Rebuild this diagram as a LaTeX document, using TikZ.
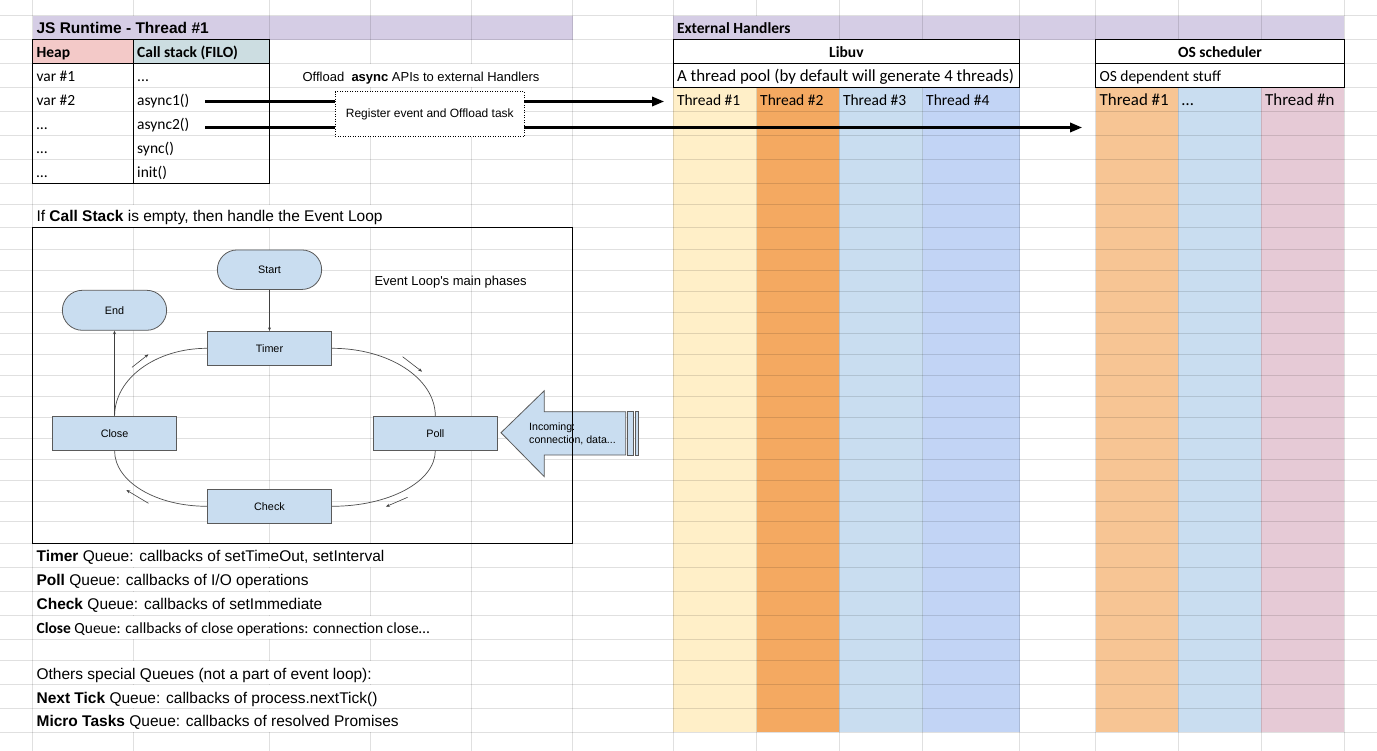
\documentclass[tikz,border=0pt]{standalone}
\usepackage{fontspec}
\setmainfont{Liberation Sans}
\newfontfamily\calfont{Carlito}
\newfontfamily\arifont{Liberation Sans}
\usetikzlibrary{arrows.meta}

\definecolor{hdrpurple}{HTML}{D5CDE5}
\definecolor{heapred}{HTML}{F3C9C8}
\definecolor{callcyan}{HTML}{CCDDE1}
\definecolor{tyellow}{HTML}{FFEFC8}
\definecolor{torange}{HTML}{F4A961}
\definecolor{tblue}{HTML}{C9DDF0}
\definecolor{tcorn}{HTML}{C2D4F5}
\definecolor{tlorange}{HTML}{F7C594}
\definecolor{tpink}{HTML}{E6CAD6}
\definecolor{shapefill}{HTML}{C9DDF0}
\definecolor{shapeline}{HTML}{5A5A5A}

\newcommand\gmask[4]{\fill[#4] (#1-1.6,#2+0.7) rectangle (#1+1.6,#3-0.7);}

\begin{document}
\begin{tikzpicture}[x=1pt,y=-1pt,
  cell/.style={font=\calfont\fontsize{15.5}{18}\selectfont, inner sep=0pt, anchor=base west},
  cellbig/.style={font=\calfont\fontsize{16.9}{20}\selectfont, inner sep=0pt, anchor=base west},
  acell/.style={font=\arifont\fontsize{15.5}{18}\selectfont, inner sep=0pt, anchor=base west},
  gridln/.style={draw=black, opacity=0.12, line width=1pt},
  border/.style={draw=black, line width=1pt},
  phase/.style={draw=shapeline, fill=shapefill, line width=0.8pt, inner sep=0pt,
     minimum width=124.3pt, minimum height=34pt, font=\arifont\fontsize{10.8}{13}\selectfont},
  term/.style={phase, minimum width=104.3pt, minimum height=39.5pt, rounded corners=19.7pt},
  loopline/.style={draw=black!70, line width=0.7pt},
  conn/.style={draw=black!75, line width=0.7pt, -{Stealth[length=3.5pt,width=3pt]}},
  dirarrow/.style={draw=black!75, line width=0.6pt, -{Stealth[length=4pt,width=3pt]}},
  offarrow/.style={draw=black, line width=2.1pt, -{Triangle[length=12pt,width=9.5pt]}},
  bigshape/.style={draw=shapeline, fill=shapefill, line width=0.8pt}
]
\fill[white] (0,0) rectangle (1377,751);
\useasboundingbox (0,0) rectangle (1377,751);

% fills
\fill[hdrpurple] (32.7,15.7) rectangle (572.6,39.6);
\fill[hdrpurple] (673.3,15.7) rectangle (1344.3,39.6);
\fill[heapred] (32.7,39.6) rectangle (133.5,63.5);
\fill[callcyan] (133.5,39.6) rectangle (269.8,63.5);
\fill[tyellow] (673.3,87.5) rectangle (756.6,732.3);
\fill[torange] (756.6,87.5) rectangle (839.3,732.3);
\fill[tblue] (839.3,87.5) rectangle (922.6,732.3);
\fill[tcorn] (922.6,87.5) rectangle (1019.5,732.3);
\fill[tlorange] (1095.6,87.5) rectangle (1178.3,732.3);
\fill[tblue] (1178.3,87.5) rectangle (1261.4,732.3);
\fill[tpink] (1261.4,87.5) rectangle (1344.3,732.3);

% grid
\foreach \x in {32.7,133.5,269.8,370.5,471.5,572.6,673.3,756.6,839.3,922.6,1019.5,1095.6,1178.3,1261.4,1344.3}
  \draw[gridln] (\x,0) -- (\x,751);
\foreach \y in {15.7,39.6,63.5,87.5,111.5,135.5,159.5,183.4,204.3,227.8,249.3,270.7,291.7,312.7,333.5,354.7,375.7,396.7,417.7,438.7,459.5,480.5,501.5,521.8,543.3,567.3,591.5,615.3,639.3,660.7,684.7,708.7,732.3}
  \draw[gridln] (0,\y) -- (1377,\y);

% gridlines hidden by overflowing text
\gmask{133.5}{15.7}{39.6}{hdrpurple}
\gmask{756.6}{15.7}{39.6}{hdrpurple}
\gmask{370.5}{63.5}{87.5}{white}
\gmask{471.5}{63.5}{87.5}{white}
\foreach \ya/\yb in {204.3/227.8,543.3/567.3,615.3/639.3,660.7/684.7,684.7/708.7,708.7/732.3}{
  \gmask{133.5}{\ya}{\yb}{white}
  \gmask{269.8}{\ya}{\yb}{white}
  \gmask{370.5}{\ya}{\yb}{white}
}
\foreach \ya/\yb in {567.3/591.5,591.5/615.3}{
  \gmask{133.5}{\ya}{\yb}{white}
  \gmask{269.8}{\ya}{\yb}{white}
}

% merged boxes
\fill[white] (673.3,39.6) rectangle (1019.5,87.5);
\fill[white] (1095.6,39.6) rectangle (1344.3,87.5);
\draw[border] (673.3,39.6) rectangle (1019.5,87.5);
\draw[border] (673.3,63.5) -- (1019.5,63.5);
\draw[border] (1095.6,39.6) rectangle (1344.3,87.5);
\draw[border] (1095.6,63.5) -- (1344.3,63.5);

% JS table borders
\draw[border] (32.7,39.6) rectangle (269.8,183.4);
\draw[border] (133.5,39.6) -- (133.5,183.4);
\draw[border] (32.7,63.5) -- (269.8,63.5);

% texts
\node[acell, font=\arifont\bfseries\fontsize{15.5}{18}\selectfont] (jsrt) at (36.3,34) {JS Runtime - Thread \#1};
\node[cell, font=\calfont\bfseries\fontsize{15.5}{18}\selectfont] (exth) at (676.8,34) {External Handlers};
\node[cell, font=\calfont\bfseries\fontsize{15.5}{18}\selectfont] (heap) at (36.4,58) {Heap};
\node[cell, font=\calfont\bfseries\fontsize{15.5}{18}\selectfont] (cstack) at (137,58) {Call stack (FILO)};
\node[cell] (h1) at (36.4,82) {var \#1};
\node[cell] (h2) at (36.4,106) {var \#2};
\node[cell] (h3) at (36.4,130) {…};
\node[cell] (h4) at (36.4,154) {…};
\node[cell] (h5) at (36.4,178) {…};
\node[cell] (c1) at (137,82) {...};
\node[cell] (c2) at (137,106) {async1()};
\node[cell] (c3) at (137,130) {async2()};
\node[cell] (c4) at (137,154) {sync()};
\node[cell] (c5) at (137,178) {init()};

\node[cell, anchor=base, font=\calfont\bfseries\fontsize{15.5}{18}\selectfont] (libuv) at (846.4,58) {Libuv};
\node[cellbig] (pool) at (676.8,82) {A thread pool (by default will generate 4 threads)};
\node[cell, anchor=base, font=\calfont\bfseries\fontsize{15.5}{18}\selectfont] (ossch) at (1220,58) {OS scheduler};
\node[cell] (osdep) at (1099.3,82) {OS dependent stuff};
\node[cell] (lt1) at (676.8,106) {Thread \#1};
\node[cell] (lt2) at (760,106) {Thread \#2};
\node[cell] (lt3) at (842.8,106) {Thread \#3};
\node[cell] (lt4) at (926,106) {Thread \#4};
\node[cellbig] (ot1) at (1099.5,106) {Thread \#1};
\node[cellbig] (ot2) at (1181.7,106) {…};
\node[cellbig] (otn) at (1265,106) {Thread \#n};

\node[inner sep=0pt, anchor=base, font=\arifont\fontsize{13}{15}\selectfont] (offl) at (421,81.7) {Offload\ \ \textbf{async} APIs to external Handlers};

\node[acell] (ifcs) at (36.3,221.8) {If \textbf{Call Stack} is empty, then handle the Event Loop};

\node[acell] (q1) at (36.4,561.6) {\textbf{Timer} Queue: callbacks of setTimeOut, setInterval};
\node[acell] (q2) at (36.4,585.8) {\textbf{Poll} Queue: callbacks of I/O operations};
\node[acell] (q3) at (36.4,609.6) {\textbf{Check} Queue: callbacks of setImmediate};
\node[cell] (q4) at (36.4,633.6) {\textbf{Close} Queue: callbacks of close operations: connection close…};
\node[acell] (q5) at (36.4,679) {Others special Queues (not a part of event loop):};
\node[acell] (q6) at (36.4,703) {\textbf{Next Tick} Queue: callbacks of process.nextTick()};
\node[acell] (q7) at (36.4,726.6) {\textbf{Micro Tasks} Queue: callbacks of resolved Promises};

% offload arrows
\coordinate (a1s) at (205,101.5);
\coordinate (a1e) at (664,101.5);
\coordinate (a2s) at (205,127.5);
\coordinate (a2e) at (1082,127.5);
\draw[offarrow] (a1s) -- (a1e);
\draw[offarrow] (a2s) -- (a2e);
\node[draw=black, dash pattern=on 1pt off 1.5pt, line width=0.8pt, fill=white,
      minimum width=189pt, minimum height=45pt, inner sep=0pt,
      font=\arifont\fontsize{12}{14}\selectfont] (reg) at (429.8,114.2) {Register event and Offload task};

% event loop drawing
\node[term] (start) at (269.5,269.7) {Start};
\node[term, minimum height=40pt, rounded corners=20pt] (end) at (114.5,310.3) {End};
\node[phase] (timer) at (269.5,348.3) {Timer};
\node[phase] (close) at (114.6,433.3) {Close};
\node[phase] (poll) at (435.3,433.3) {Poll};
\node[phase] (check) at (269.5,506.3) {Check};

\draw[loopline] (timer.east) .. controls +(57,0) and +(0,-37.5) .. (poll.north);
\draw[loopline] (poll.south) .. controls +(0,31) and +(57,0) .. (check.east);
\draw[loopline] (check.west) .. controls +(-51,0) and +(0,31) .. (close.south);
\draw[loopline] (close.north) .. controls +(0,-37.5) and +(-51,0) .. (timer.west);

\draw[conn] (start.south) -- (timer.north);
\draw[conn] (close.north) -- (end.south);

\coordinate (d1a) at (132,367.3);   \coordinate (d1b) at (148.5,354.3);
\coordinate (d2a) at (402.6,356.7); \coordinate (d2b) at (422.1,371.7);
\coordinate (d3a) at (407.6,497.3); \coordinate (d3b) at (385.8,506.7);
\coordinate (d4a) at (148.5,503.3); \coordinate (d4b) at (126.3,490);
\draw[dirarrow] (d1a) -- (d1b);
\draw[dirarrow] (d2a) -- (d2b);
\draw[dirarrow] (d3a) -- (d3b);
\draw[dirarrow] (d4a) -- (d4b);

\node[anchor=base west, inner sep=0pt, font=\arifont\fontsize{13}{15}\selectfont] (elmain) at (374.3,286) {Event Loop\textquotesingle s main phases};

% incoming big arrow
\filldraw[bigshape] (501,432.7) -- (544.3,390.7) -- (544.3,411.7) -- (625.7,411.7) -- (625.7,455) -- (544.3,455) -- (544.3,476.7) -- cycle;
\filldraw[bigshape] (627,411.7) rectangle (633.7,455);
\filldraw[bigshape] (635,411.7) rectangle (638.7,455);
\node[anchor=west, inner sep=0pt, align=left, font=\arifont\fontsize{10.6}{13.4}\selectfont] (incoming) at (529,434) {Incoming:\\connection, data...};

% event loop frame
\node[draw=black, line width=1pt, minimum width=539.9pt, minimum height=315.5pt, inner sep=0pt] (elbox) at (302.65,385.55) {};
\end{tikzpicture}
\end{document}
